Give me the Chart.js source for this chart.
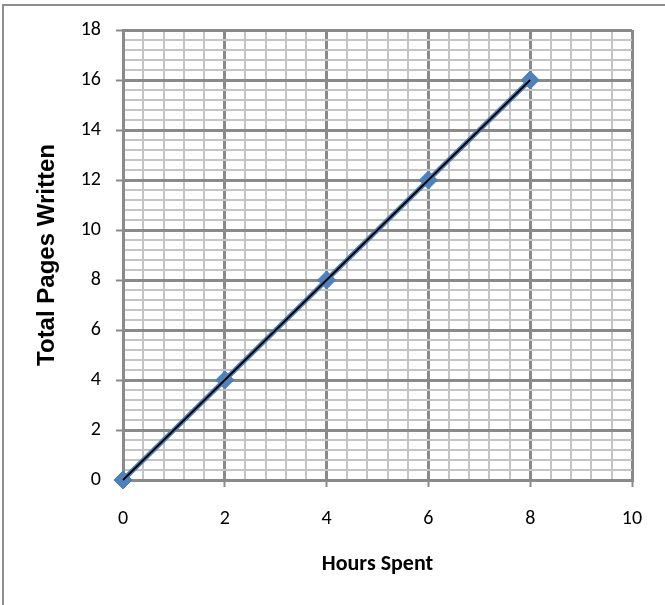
<!DOCTYPE html>
<html>
<head>
<meta charset="utf-8">
<script src="https://cdn.jsdelivr.net/npm/chart.js@4/dist/chart.umd.min.js"></script>
<style>
  body { margin: 0; background: #fff; }
  .frame { position: absolute; left: 2px; top: 4px; width: 700px; height: 700px;
           border-top: 2px solid #8e8e8e; border-left: 2px solid #8e8e8e; }
  #wrap { position: absolute; left: 0; top: 0; width: 665px; height: 605px; }
</style>
</head>
<body>
<div class="frame"></div>
<div id="wrap"><canvas id="myChart"></canvas></div>
<script>
'use strict';

// DATA
var hours = [0, 2, 4, 6, 8];
var pages = [0, 4, 8, 12, 16];
var trendPages = [0, 4, 8, 12, 16];

var xMax = 10, yMax = 18;
var majorStep = 2, minorStep = 0.4;

function isMajor(v) {
  return Math.abs(v / majorStep - Math.round(v / majorStep)) < 1e-6;
}
function minorTicks(max) {
  var t = [];
  for (var i = 0; i * minorStep <= max + 1e-9; i++) {
    t.push({ value: Math.round(i * minorStep * 10) / 10 });
  }
  return t;
}
function gridColor(c) { return c.tick && isMajor(c.tick.value) ? '#8a8a8a' : '#c4c4c4'; }
function gridWidth(c) { return c.tick && isMajor(c.tick.value) ? 3 : 2; }
function tickColor(c) { return c.tick && isMajor(c.tick.value) ? '#8a8a8a' : 'rgba(0,0,0,0)'; }

var tickFont = { family: 'Carlito, Lato, sans-serif', size: 20 };
var xTitleFont = { family: 'Carlito, Lato, sans-serif', size: 22, weight: 'bold' };
var yTitleFont = { family: '"Liberation Sans", Arial, sans-serif', size: 24, weight: 'bold' };

// WYKRES
var ctx = document.getElementById('myChart').getContext('2d');

var chart = new Chart(ctx, {
  type: 'line',
  data: {
    datasets: [{
      label: 'Trend',
      data: hours.map(function(h, i) { return { x: h, y: trendPages[i] }; }),
      borderColor: '#000000',
      borderWidth: 1.8,
      pointRadius: 0,
      clip: false,
      order: 0
    }, {
      label: 'Total Pages Written',
      data: hours.map(function(h, i) { return { x: h, y: pages[i] }; }),
      borderColor: '#4f81bd',
      borderWidth: 5,
      pointStyle: 'rectRot',
      pointRadius: 9,
      pointBackgroundColor: '#4f81bd',
      pointBorderColor: '#4a7ebb',
      pointBorderWidth: 1,
      clip: false,
      order: 1
    }]
  },
  options: {
    responsive: true,
    maintainAspectRatio: false,
    animation: false,
    layout: { padding: { left: 0, right: 33, top: 30, bottom: 0 } },
    plugins: { legend: { display: false }, tooltip: { enabled: false } },
    scales: {
      x: {
        type: 'linear',
        min: 0, max: xMax,
        afterBuildTicks: function(s) { s.ticks = minorTicks(xMax); },
        afterFit: function(s) { s.height = 125; },
        ticks: {
          autoSkip: false, maxRotation: 0,
          color: '#000', font: tickFont, padding: 20,
          callback: function(v) { return isMajor(v) ? String(Math.round(v)) : ''; }
        },
        grid: { color: gridColor, lineWidth: gridWidth, tickColor: tickColor, tickLength: 7, tickWidth: 2 },
        border: { display: true, color: '#8a8a8a', width: 3 },
        title: { display: true, text: 'Hours Spent', color: '#000', font: xTitleFont, padding: { top: 0, bottom: 27 } }
      },
      y: {
        min: 0, max: yMax,
        afterBuildTicks: function(s) { s.ticks = minorTicks(yMax); },
        afterFit: function(s) { s.width = 123; },
        ticks: {
          autoSkip: false,
          color: '#000', font: tickFont, padding: 15,
          callback: function(v) { return isMajor(v) ? String(Math.round(v)) : ''; }
        },
        grid: { color: gridColor, lineWidth: gridWidth, tickColor: tickColor, tickLength: 7, tickWidth: 2 },
        border: { display: true, color: '#8a8a8a', width: 3 },
        title: { display: true, text: 'Total Pages Written', color: '#000', font: yTitleFont, padding: { top: 33, bottom: 0 } }
      }
    }
  }
});
</script>
</body>
</html>
